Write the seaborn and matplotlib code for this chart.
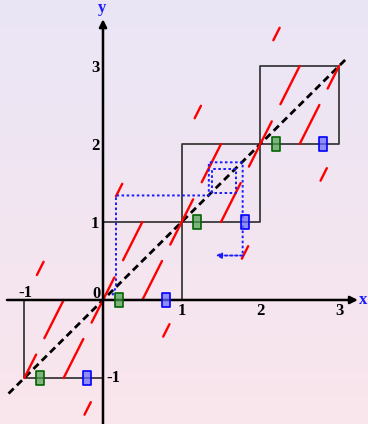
import numpy as np
import pandas as pd
import matplotlib
matplotlib.use("Agg")
import matplotlib.pyplot as plt
import seaborn as sns
from matplotlib.path import Path

sns.set_theme(style="white")

# ---- data ----
# red pieces of the lifted map: (x0, y0) -> (x1, y1)
red_x0 = [-1.0, -0.84, -0.745, -0.5, -0.235,
          -0.145, 0.165, 0.255, 0.5, 0.765,
          0.855, 1.165, 1.255, 1.5, 1.765,
          1.855, 2.165, 2.255, 2.5, 2.765,
          2.855]
red_y0 = [-1.0, 0.32, -0.49, -1.0, -1.47,
          -0.29, 1.33, 0.51, 0.0, -0.47,
          0.71, 2.33, 1.51, 1.0, 0.53,
          1.71, 3.33, 2.51, 2.0, 1.53,
          2.71]
red_x1 = [-0.85, -0.755, -0.5, -0.25, -0.155,
          0.145, 0.245, 0.5, 0.75, 0.845,
          1.145, 1.245, 1.5, 1.75, 1.845,
          2.145, 2.245, 2.5, 2.75, 2.845,
          3.0]
red_y1 = [-0.7, 0.49, 0.0, -0.5, -1.31,
          0.29, 1.49, 1.0, 0.5, -0.31,
          1.29, 2.49, 2.0, 1.5, 0.69,
          2.29, 3.49, 3.0, 2.5, 1.69,
          3.0]

# unit squares [n, n+1] x [n, n+1]
square_n = [-1, 0, 1, 2]

# diagonal y = x
diag_x = [-1.2, 3.1]

# green and blue markers
green_x = [-0.8, 0.2, 1.2, 2.2]
green_y = [-1, 0, 1, 2]
blue_x = [-0.2, 0.8, 1.8, 2.8]
blue_y = [-1, 0, 1, 2]

# blue dotted cobweb path
cob_x = [0.12, 0.165, 0.165, 1.345, 1.345, 1.775, 1.775]
cob_y = [0.06, 0.17, 1.34, 1.34, 1.765, 1.765, 0.57]
inner_x = [1.38, 1.38, 1.69, 1.69, 1.38]
inner_y = [1.37, 1.68, 1.68, 1.37, 1.37]
arrow_from = (1.775, 0.57)
arrow_to = (1.43, 0.57)

# tick labels
xtick_vals = [-1, 1, 2, 3]
xtick_text = ["-1", "1", "2", "3"]
ytick_vals = [1, 2, 3, -1]
ytick_text = ["1", "2", "3", "-1"]

# ---- figure ----
W, H = 368, 424
fig = plt.figure(figsize=(W / 100, H / 100), dpi=100)
ax = fig.add_axes([0, 0, 1, 1])
xlim = (-1.309, 3.368)
ylim = (-1.59, 3.846)
ax.set_xlim(*xlim)
ax.set_ylim(*ylim)
ax.axis("off")

# background gradient
top = np.array([234, 230, 246]) / 255
bot = np.array([250, 229, 236]) / 255
t = np.linspace(0, 1, 256)[:, None]
grad = top[None, :] * (1 - t) + bot[None, :] * t
ax.imshow(grad[:, None, :], extent=[xlim[0], xlim[1], ylim[0], ylim[1]],
          aspect="auto", origin="upper", zorder=0)

# squares
for n in square_n:
    sx = [n, n + 1, n + 1, n, n]
    sy = [n, n, n + 1, n + 1, n]
    ax.plot(sx, sy, color="#3a3a3a", lw=1.3, zorder=2, solid_capstyle="butt")

# diagonal
sns.lineplot(x=diag_x, y=diag_x, ax=ax, color="black", lw=2.0,
             linestyle=(0, (2.6, 1.6)), zorder=3)

# red segments
rows = []
for i in range(len(red_x0)):
    rows.append({"seg": i, "x": red_x0[i], "y": red_y0[i]})
    rows.append({"seg": i, "x": red_x1[i], "y": red_y1[i]})
df = pd.DataFrame(rows)
sns.lineplot(data=df, x="x", y="y", units="seg", estimator=None, sort=False,
             color="red", lw=1.7, ax=ax, zorder=4)

# cobweb
dot = (0, (1.3, 1.3))
ax.plot(cob_x, cob_y, color="#1a1aff", lw=1.4, linestyle=dot, zorder=5)
ax.plot(inner_x, inner_y, color="#1a1aff", lw=1.4, linestyle=dot, zorder=5)
ax.annotate("", xy=arrow_to, xytext=arrow_from,
            arrowprops=dict(arrowstyle="-|>", color="#1a1aff", lw=1.4,
                            linestyle=dot, mutation_scale=8,
                            shrinkA=0, shrinkB=0), zorder=5)

# axes with arrows
ax.annotate("", xy=(3.24, 0), xytext=(-1.22, 0),
            arrowprops=dict(arrowstyle="-|>", color="black", lw=1.8,
                            mutation_scale=11, shrinkA=0, shrinkB=0), zorder=6)
ax.annotate("", xy=(0, 3.6), xytext=(0, -1.6),
            arrowprops=dict(arrowstyle="-|>", color="black", lw=1.8,
                            mutation_scale=11, shrinkA=0, shrinkB=0), zorder=6)

# markers
rect = Path([(-0.34, -0.5), (0.34, -0.5), (0.34, 0.5), (-0.34, 0.5), (-0.34, -0.5)],
            [Path.MOVETO, Path.LINETO, Path.LINETO, Path.LINETO, Path.CLOSEPOLY])
ax.plot(green_x, green_y, linestyle="none", marker=rect, markersize=9.5,
        markerfacecolor=(0.3, 0.62, 0.3, 0.7), markeredgecolor="#006400",
        markeredgewidth=1.2, zorder=7)
ax.plot(blue_x, blue_y, linestyle="none", marker=rect, markersize=9.5,
        markerfacecolor=(0.4, 0.4, 1.0, 0.7), markeredgecolor="#0000ff",
        markeredgewidth=1.2, zorder=7)

# labels
font = dict(family="Liberation Serif", weight="bold", fontsize=12)
for v, s in zip(xtick_vals, xtick_text):
    if v == -1:
        ax.text(-0.99, 0.09, s, ha="center", va="center", color="black", **font)
    else:
        ax.text(v, -0.14, s, ha="center", va="center", color="black", **font)
for v, s in zip(ytick_vals, ytick_text):
    if v == -1:
        ax.text(0.13, -1.0, s, ha="center", va="center", color="black", **font)
    else:
        ax.text(-0.1, v - 0.03, s, ha="center", va="center", color="black", **font)
ax.text(-0.08, 0.08, "0", ha="center", va="center", color="black", **font)
ax.text(-0.013, 3.74, "y", ha="center", va="center", color="#1a1aff", **font)
ax.text(3.31, 0.0, "x", ha="center", va="center", color="#1a1aff", **font)

fig.savefig("out.png", dpi=100)
